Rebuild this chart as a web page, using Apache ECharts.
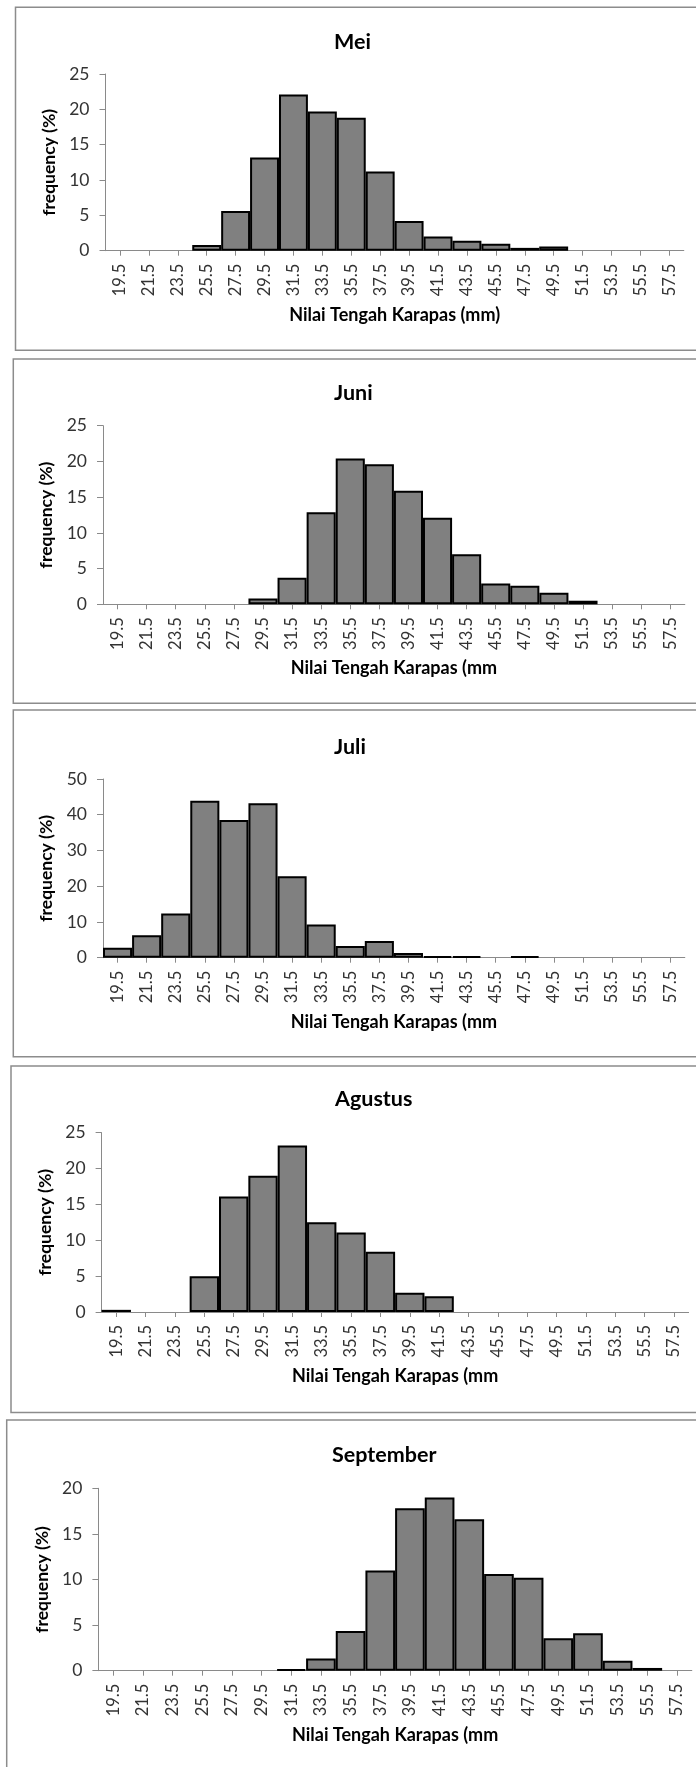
<!DOCTYPE html>
<html>
<head>
    <meta charset="utf-8">
    <title>Nilai Tengah Karapas</title>
    <script src="https://cdn.jsdelivr.net/npm/echarts@6/dist/echarts.min.js"></script>
    <style>
        html, body { margin: 0; padding: 0; background: #fff; }
        #main { width: 696px; height: 1767px; }
    </style>
</head>
<body>
<div id="main"></div>
<script type="text/javascript">
// kelas nilai tengah karapas (mm)
var categories = ['19.5', '21.5', '23.5', '25.5', '27.5', '29.5', '31.5', '33.5', '35.5', '37.5',
                  '39.5', '41.5', '43.5', '45.5', '47.5', '49.5', '51.5', '53.5', '55.5', '57.5'];

// frequency (%) per bulan
var mei       = [0, 0, 0, 0.8, 5.6, 13.2, 22.1, 19.7, 18.8, 11.2, 4.2, 2.0, 1.4, 1.0, 0.4, 0.6, 0, 0, 0, 0];
var juni      = [0, 0, 0, 0, 0, 0.8, 3.7, 12.9, 20.4, 19.6, 15.9, 12.1, 7.0, 2.9, 2.6, 1.6, 0.5, 0, 0, 0];
var juli      = [2.8, 6.3, 12.4, 43.9, 38.5, 43.2, 22.8, 9.3, 3.3, 4.7, 1.3, 0.4, 0.4, 0, 0.4, 0, 0, 0, 0, 0];
var agustus   = [0.3, 0, 0, 5.0, 16.1, 19.0, 23.2, 12.5, 11.1, 8.4, 2.7, 2.2, 0, 0, 0, 0, 0, 0, 0, 0];
var september = [0, 0, 0, 0, 0, 0, 0.15, 1.35, 4.35, 11.0, 17.8, 19.0, 16.6, 10.6, 10.2, 3.55, 4.1, 1.1, 0.3, 0];

// sumbu y: batas atas dan jarak tick
var yMax      = [25, 25, 50, 25, 20];
var yInterval = [5, 5, 10, 5, 5];

var titles = ['Mei', 'Juni', 'Juli', 'Agustus', 'September'];
var xNames = ['Nilai Tengah Karapas (mm)', 'Nilai Tengah Karapas (mm', 'Nilai Tengah Karapas (mm',
              'Nilai Tengah Karapas (mm', 'Nilai Tengah Karapas (mm'];
var yName = 'frequency (%)';
var allData = [mei, juni, juli, agustus, september];

// posisi tiap panel (layout saja)
var panels = [
    {box: [15.5, 7.3, 343],   grid: [105.5, 74, 578.3, 176.7],   titleX: 334, titleY: 41.7},
    {box: [13.3, 359, 344.3], grid: [103, 425.7, 581.8, 178.6],  titleX: 334, titleY: 393.3},
    {box: [13.3, 710, 346.7], grid: [103, 779, 581.8, 178.7],    titleX: 334, titleY: 746.7},
    {box: [11, 1066, 346.5],  grid: [101.6, 1132.7, 587, 179.3], titleX: 335, titleY: 1099},
    {box: [6.7, 1420, 400],   grid: [98.4, 1488.3, 593.4, 182.4], titleX: 332, titleY: 1455}
];

var FONT = 'Lato';
var myChart = echarts.init(document.getElementById('main'));

var option = {
    animation: false,
    title: [], grid: [], xAxis: [], yAxis: [], series: [], graphic: []
};

panels.forEach(function (p, i) {
    option.graphic.push({
        type: 'rect', silent: true, z: -1,
        shape: {x: p.box[0], y: p.box[1], width: 720, height: p.box[2]},
        style: {fill: 'none', stroke: '#8c8c8c', lineWidth: 1.5}
    });
    option.title.push({
        text: titles[i], left: p.titleX, top: p.titleY, padding: 0,
        textAlign: 'left', textVerticalAlign: 'middle',
        textStyle: {fontFamily: FONT, fontSize: 21.5, fontWeight: 'bold', color: '#000'}
    });
    option.grid.push({
        left: p.grid[0], top: p.grid[1], width: p.grid[2], height: p.grid[3],
        containLabel: false, outerBoundsMode: 'none'
    });
    option.xAxis.push({
        type: 'category', gridIndex: i, data: categories,
        name: xNames[i], nameLocation: 'middle', nameGap: 55,
        nameTextStyle: {fontFamily: FONT, fontSize: 18, fontWeight: 'bold', color: '#000'},
        axisLine: {show: true, lineStyle: {color: '#8a8a8a', width: 1}},
        axisTick: {show: true, alignWithLabel: true, length: 5, lineStyle: {color: '#8a8a8a'}},
        axisLabel: {rotate: 90, interval: 0, margin: 13, fontFamily: FONT, fontSize: 16.5, color: '#333'},
        splitLine: {show: false}
    });
    option.yAxis.push({
        type: 'value', gridIndex: i, min: 0, max: yMax[i], interval: yInterval[i],
        name: yName, nameLocation: 'middle', nameRotate: 90, nameGap: 43,
        nameTextStyle: {fontFamily: FONT, fontSize: 17.5, fontWeight: 'bold', color: '#000'},
        axisLine: {show: true, lineStyle: {color: '#8a8a8a', width: 1}},
        axisTick: {show: true, length: 6, lineStyle: {color: '#8a8a8a'}},
        axisLabel: {margin: 16, fontFamily: FONT, fontSize: 17.5, color: '#333'},
        splitLine: {show: false}
    });
    option.series.push({
        type: 'bar', xAxisIndex: i, yAxisIndex: i,
        barCategoryGap: '0%',
        itemStyle: {color: '#808080', borderColor: '#000', borderWidth: 2},
        data: allData[i].map(function (v) { return v === 0 ? '-' : v; })
    });
});

myChart.setOption(option);
</script>
</body>
</html>
